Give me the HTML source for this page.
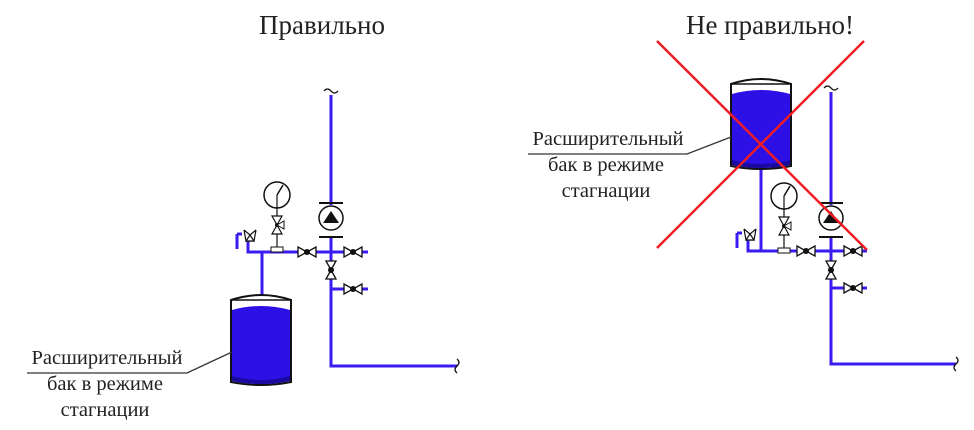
<!DOCTYPE html>
<html><head><meta charset="utf-8"><style>
html,body{margin:0;padding:0;background:#fff;}
svg{display:block;}
text{font-family:"Liberation Serif",serif;fill:#222;}
</style></head><body>
<svg width="974" height="430" viewBox="0 0 974 430" xmlns="http://www.w3.org/2000/svg">
<defs>
  <g id="hv"><path d="M-9,-5 L0,0 L-9,5 Z M9,-5 L0,0 L9,5 Z" fill="#fff" stroke="#111" stroke-width="1.3"/><circle r="3" fill="#111"/></g>
  <g id="vv"><path d="M-5,-9 L0,0 L5,-9 Z M-5,9 L0,0 L5,9 Z" fill="#fff" stroke="#111" stroke-width="1.3"/><circle r="3" fill="#111"/></g>
  <g id="pump"><line x1="-12" y1="-15" x2="12" y2="-15" stroke="#111" stroke-width="2"/><line x1="-12" y1="19" x2="12" y2="19" stroke="#111" stroke-width="2"/><circle r="12" fill="#fff" stroke="#111" stroke-width="1.5"/><path d="M-8,5 L0,-7 L8,5 Z" fill="#111"/></g>
  <g id="gauge"><circle r="13" fill="#fff" stroke="#111" stroke-width="1.5"/><line x1="0" y1="0" x2="6" y2="-10" stroke="#111" stroke-width="1.5"/><line x1="0" y1="0" x2="0" y2="52" stroke="#111" stroke-width="1.2"/><path d="M-5,21 L0,30 L5,21 Z M-5,39 L0,30 L5,39 Z" fill="#fff" stroke="#111" stroke-width="1.2"/><circle cy="30" r="2" fill="#111"/><path d="M0,30 L7,26 L7,34 Z" fill="#fff" stroke="#111"/><rect x="-6" y="52" width="12" height="5" fill="#fff" stroke="#111"/></g>
  <g id="safety"><path d="M-13,-3 L-13,12" stroke="#3a1cf0" stroke-width="3" fill="none"/><path d="M-13,-3 L-8,-3" stroke="#3a1cf0" stroke-width="3"/><path d="M-6,-7 L0,-2 L6,-7 M-6,-7 L-4,4 L4,4 L6,-7" fill="#fff" stroke="#111" stroke-width="1.2"/><path d="M-4,4 L0,-2 L4,4 Z" fill="#fff" stroke="#111" stroke-width="1.2"/></g>
  <g id="tank"><path d="M0,8 Q30,-2 60,8 L60,90 Q30,96 0,90 Z" fill="#fff" stroke="#111" stroke-width="2"/><path d="M1,18 Q30,10 59,18 L59,89 Q30,95 1,89 Z" fill="#2d10e6"/><path d="M1,84 Q30,92 59,84 L59,89 Q30,95 1,89 Z" fill="#1a0aa0"/><line x1="0" y1="8" x2="60" y2="8" stroke="#111" stroke-width="1.5"/></g>
</defs>

<text x="322" y="34" font-size="27" text-anchor="middle">Правильно</text>
<text x="770" y="34" font-size="27" text-anchor="middle">Не правильно!</text>

<!-- LEFT -->
<g stroke="#3a1cf0" stroke-width="3" fill="none">
  <path d="M331,95 L331,205"/>
  <path d="M331,238 L331,366 L457,366"/>
  <path d="M248,234 L248,252 L368,252"/>
  <path d="M262,252 L262,295"/>
  <path d="M331,289 L368,289"/>
</g>
<path d="M324,91 q3.5,-4 7,0 t7,0" stroke="#111" fill="none" stroke-width="1.3"/>
<path d="M457,359 q4,3.5 0,7 t0,7" stroke="#111" fill="none" stroke-width="1.3"/>
<use href="#pump" x="331" y="218"/>
<use href="#gauge" x="277" y="195"/>
<use href="#safety" x="250" y="237"/>
<use href="#hv" x="307" y="252"/>
<use href="#hv" x="353" y="252"/>
<use href="#hv" x="353" y="289"/>
<use href="#vv" x="331" y="270"/>
<use href="#tank" x="231" y="292"/>
<text x="107" y="364" font-size="20.5" text-anchor="middle">Расширительный</text>
<text x="105" y="390" font-size="20.5" text-anchor="middle">бак в режиме</text>
<text x="105" y="416" font-size="20.5" text-anchor="middle">стагнации</text>
<path d="M27,373 L187,373 L232,352" stroke="#333" fill="none" stroke-width="1.3"/>

<!-- RIGHT -->
<g stroke="#3a1cf0" stroke-width="3" fill="none">
  <path d="M831,92 L831,205"/>
  <path d="M831,238 L831,364 L956,364"/>
  <path d="M748,234 L748,251 L867,251"/>
  <path d="M761,168 L761,251"/>
  <path d="M831,288 L867,288"/>
</g>
<path d="M824,88 q3.5,-4 7,0 t7,0" stroke="#111" fill="none" stroke-width="1.3"/>
<path d="M956,357 q4,3.5 0,7 t0,7" stroke="#111" fill="none" stroke-width="1.3"/>
<use href="#pump" x="831" y="218"/>
<use href="#gauge" x="784" y="196"/>
<use href="#safety" x="750" y="236"/>
<use href="#hv" x="806" y="251"/>
<use href="#hv" x="853" y="251"/>
<use href="#hv" x="853" y="288"/>
<use href="#vv" x="831" y="270"/>
<use href="#tank" x="731" y="76"/>
<text x="608" y="145" font-size="20.5" text-anchor="middle">Расширительный</text>
<text x="606" y="171" font-size="20.5" text-anchor="middle">бак в режиме</text>
<text x="606" y="197" font-size="20.5" text-anchor="middle">стагнации</text>
<path d="M528,154 L687,154 L731,137" stroke="#333" fill="none" stroke-width="1.3"/>

<!-- red X -->
<g stroke="#ee1c24" stroke-width="2.5">
  <line x1="657" y1="41" x2="867" y2="250"/>
  <line x1="864" y1="41" x2="657" y2="248"/>
</g>
</svg>
</body></html>
